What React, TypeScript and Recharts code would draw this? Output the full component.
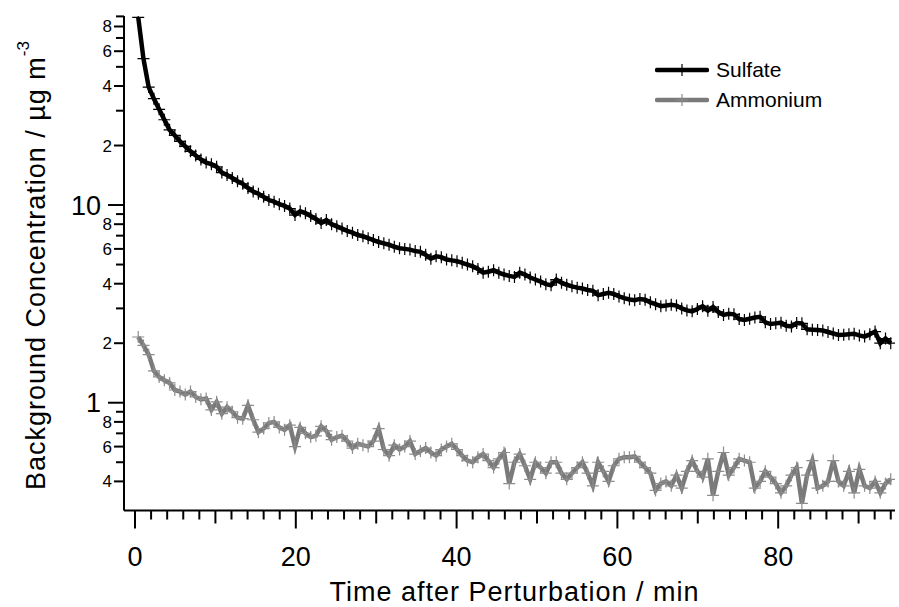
import { LineChart, Line, XAxis, YAxis, Legend, Label } from 'recharts'

const FONT = '"Liberation Sans", Arial, Helvetica, sans-serif'

// minutes after the perturbation
const timeMin = [
  0.4, 1.05, 1.7, 2.35, 3, 3.65, 4.3, 4.95, 5.6, 6.25, 6.9, 7.55, 8.2, 8.85, 9.5, 10.15,
  10.8, 11.45, 12.1, 12.75, 13.4, 14.05, 14.7, 15.35, 16, 16.65, 17.3, 17.95, 18.6, 19.25,
  19.9, 20.55, 21.2, 21.85, 22.5, 23.15, 23.8, 24.45, 25.1, 25.75, 26.4, 27.05, 27.7, 28.35,
  29, 29.65, 30.3, 30.95, 31.6, 32.25, 32.9, 33.55, 34.2, 34.85, 35.5, 36.15, 36.8, 37.45,
  38.1, 38.75, 39.4, 40.05, 40.7, 41.35, 42, 42.65, 43.3, 43.95, 44.6, 45.25, 45.9, 46.55,
  47.2, 47.85, 48.5, 49.15, 49.8, 50.45, 51.1, 51.75, 52.4, 53.05, 53.7, 54.35, 55, 55.65,
  56.3, 56.95, 57.6, 58.25, 58.9, 59.55, 60.2, 60.85, 61.5, 62.15, 62.8, 63.45, 64.1, 64.75,
  65.4, 66.05, 66.7, 67.35, 68, 68.65, 69.3, 69.95, 70.6, 71.25, 71.9, 72.55, 73.2, 73.85,
  74.5, 75.15, 75.8, 76.45, 77.1, 77.75, 78.4, 79.05, 79.7, 80.35, 81, 81.65, 82.3, 82.95,
  83.6, 84.25, 84.9, 85.55, 86.2, 86.85, 87.5, 88.15, 88.8, 89.45, 90.1, 90.75, 91.4, 92.05,
  92.7, 93.35, 94,
]

// µg m-3
const sulfate = [
  89, 55, 39.5, 34.5, 30.5, 27, 24, 22.5, 21, 19.8, 18.7, 17.8, 17, 16.4, 16.1, 15.6,
  14.6, 14.2, 13.7, 13.2, 12.8, 12.2, 11.7, 11.4, 11, 10.6, 10.4, 10.1, 9.9, 9.6,
  8.9, 9.3, 9.1, 8.8, 8.5, 8.1, 8.4, 8, 7.8, 7.6, 7.4, 7.25, 7.05, 6.95,
  6.8, 6.65, 6.5, 6.4, 6.3, 6.15, 6.05, 6, 5.95, 5.85, 5.8, 5.6, 5.35, 5.5,
  5.45, 5.3, 5.25, 5.2, 5.1, 5, 4.9, 4.75, 4.55, 4.6, 4.68, 4.55, 4.45, 4.38,
  4.33, 4.55, 4.45, 4.3, 4.2, 4.1, 3.98, 3.93, 4.2, 4.05, 3.95, 3.88, 3.82, 3.78,
  3.72, 3.68, 3.5, 3.55, 3.6, 3.55, 3.45, 3.38, 3.33, 3.3, 3.35, 3.32, 3.22, 3.15,
  3.08, 3.1, 3.13, 3.1, 3, 2.93, 2.9, 2.98, 3.08, 2.92, 3.05, 2.88, 2.78, 2.82,
  2.8, 2.65, 2.62, 2.66, 2.7, 2.72, 2.55, 2.5, 2.52, 2.54, 2.45, 2.43, 2.53, 2.52,
  2.35, 2.34, 2.33, 2.32, 2.28, 2.24, 2.2, 2.21, 2.22, 2.23, 2.19, 2.16, 2.22, 2.29,
  2, 2.11, 2,
]

const ammonium = [
  2.15, 1.95, 1.75, 1.45, 1.35, 1.3, 1.26, 1.16, 1.14, 1.1, 1.14, 1.07, 1.04, 1.05, 0.92, 1.01,
  0.88, 0.95, 0.9, 0.84, 0.83, 0.97, 0.82, 0.71, 0.74, 0.79, 0.8, 0.75, 0.73, 0.77,
  0.6, 0.75, 0.7, 0.67, 0.68, 0.76, 0.72, 0.65, 0.67, 0.68, 0.64, 0.59, 0.62, 0.61,
  0.6, 0.64, 0.74, 0.58, 0.54, 0.61, 0.58, 0.6, 0.64, 0.55, 0.57, 0.59, 0.56, 0.54,
  0.58, 0.6, 0.62, 0.58, 0.54, 0.51, 0.5, 0.53, 0.55, 0.51, 0.47, 0.52, 0.56, 0.39,
  0.5, 0.55, 0.48, 0.41, 0.5, 0.47, 0.44, 0.5, 0.5, 0.44, 0.41, 0.44, 0.47, 0.5,
  0.44, 0.38, 0.5, 0.45, 0.4, 0.48, 0.52, 0.53, 0.53, 0.535, 0.5, 0.47, 0.44, 0.36,
  0.39, 0.4, 0.38, 0.43, 0.37, 0.45, 0.51, 0.45, 0.42, 0.52, 0.34, 0.45, 0.56, 0.43,
  0.47, 0.52, 0.51, 0.5, 0.37, 0.4, 0.45, 0.42, 0.39, 0.35, 0.38, 0.43, 0.47, 0.31,
  0.43, 0.51, 0.37, 0.38, 0.4, 0.51, 0.4, 0.38, 0.45, 0.35, 0.46, 0.38, 0.37, 0.4,
  0.35, 0.39, 0.41,
]

const seriesOrder = ['Sulfate', 'Ammonium']

const xTicks = [
  0, 2, 4, 6, 8, 10, 12, 14, 16, 18, 20, 22, 24, 26, 28, 30, 32, 34, 36, 38, 40, 42, 44, 46,
  48, 50, 52, 54, 56, 58, 60, 62, 64, 66, 68, 70, 72, 74, 76, 78, 80, 82, 84, 86, 88, 90, 92, 94,
]
const xLabelled = [0, 20, 40, 60, 80]
const xMedium = [10, 30, 50, 70, 90]

const yTicks = [
  0.4, 0.5, 0.6, 0.7, 0.8, 0.9, 1, 2, 3, 4, 5, 6, 7, 8, 9, 10, 20, 30, 40, 50, 60, 70, 80, 90,
]
const yMajor = [1, 10]
const yMinorLabels: Record<string, string> = {
  '0.4': '4', '0.6': '6', '0.8': '8', '2': '2', '4': '4', '6': '6', '8': '8',
  '20': '2', '40': '4', '60': '6', '80': '8',
}

const data = timeMin.map((t, i) => ({ t, sulfate: sulfate[i], ammonium: ammonium[i] }))

const SULFATE_COLOR = '#000000'
const AMMONIUM_COLOR = '#7a7a7a'
const AMMONIUM_MARK = '#8c8c8c'

function cross(cx: number, cy: number, color: string, key: string) {
  return (
    <path
      key={key}
      d={`M${cx - 6},${cy}H${cx + 6}M${cx},${cy - 6}V${cy + 6}`}
      stroke={color}
      strokeWidth={1.2}
      fill="none"
    />
  )
}

function XTick(props: any) {
  const { x, y, payload } = props
  const v = payload.value
  const len = xLabelled.includes(v) ? 18 : xMedium.includes(v) ? 13 : 9
  return (
    <g>
      <line x1={x} x2={x} y1={y} y2={y + len} stroke="#000" strokeWidth={2} />
      {xLabelled.includes(v) && (
        <text x={x} y={y + 55.5} textAnchor="middle" fontSize={27} fontFamily={FONT} fill="#000">
          {v}
        </text>
      )}
    </g>
  )
}

function YTick(props: any) {
  const { x, y, payload } = props
  const v = payload.value
  const major = yMajor.includes(v)
  const small = yMinorLabels[String(v)]
  const len = major ? 16 : small ? 10 : 8
  return (
    <g>
      <line x1={x} x2={x - len} y1={y} y2={y} stroke="#000" strokeWidth={2} />
      {major && (
        <text x={x - len - 7} y={y + 9.5} textAnchor="end" fontSize={27} fontFamily={FONT} fill="#000">
          {v}
        </text>
      )}
      {!major && small && (
        <text x={x - len - 2} y={y + 6} textAnchor="end" fontSize={17} fontFamily={FONT} fill="#000">
          {small}
        </text>
      )}
    </g>
  )
}

function LegendBox(props: any) {
  const items = [...(props.payload || [])].sort(
    (a: any, b: any) => seriesOrder.indexOf(a.value) - seriesOrder.indexOf(b.value)
  )
  return (
    <div style={{ fontFamily: FONT }}>
      {items.map((it: any) => {
        const mark = it.value === 'Ammonium' ? AMMONIUM_MARK : SULFATE_COLOR
        return (
          <div key={it.value} style={{ display: 'flex', alignItems: 'center', height: 30 }}>
            <svg width={54} height={20} style={{ display: 'block' }}>
              <line x1={2} x2={52} y1={10} y2={10} stroke={it.color} strokeWidth={4.5} strokeLinecap="round" />
              {cross(27, 10, mark, 'm')}
            </svg>
            <span style={{ fontSize: 21, marginLeft: 7, color: '#000', lineHeight: '30px' }}>{it.value}</span>
          </div>
        )
      })}
    </div>
  )
}

export default function App() {
  return (
    <div style={{ position: 'absolute', left: 0, top: 0, background: '#fff' }}>
      <LineChart width={899} height={607} data={data} margin={{ top: 16, right: 4, left: 0, bottom: 0 }}>
        <XAxis
          dataKey="t"
          type="number"
          domain={[-1.37, 94.53]}
          allowDataOverflow
          ticks={xTicks}
          interval={0}
          tick={<XTick />}
          tickLine={false}
          tickSize={0}
          tickMargin={0}
          axisLine={{ stroke: '#000', strokeWidth: 2 }}
          height={96.5}
        >
          <Label
            content={(p: any) => {
              const vb = p.viewBox || { x: 124, width: 771 }
              return (
                <text
                  x={vb.x + vb.width / 2 + 5}
                  y={601}
                  textAnchor="middle"
                  fontSize={27}
                  letterSpacing={1}
                  fontFamily={FONT}
                  fill="#000"
                >
                  Time after Perturbation / min
                </text>
              )
            }}
          />
        </XAxis>
        <YAxis
          scale="log"
          type="number"
          domain={[0.285, 90.4]}
          allowDataOverflow
          ticks={yTicks}
          interval={0}
          tick={<YTick />}
          tickLine={false}
          tickSize={0}
          tickMargin={0}
          axisLine={{ stroke: '#000', strokeWidth: 2 }}
          width={124}
        >
          <Label
            content={() => (
              <text
                transform="translate(45, 490) rotate(-90)"
                x={0}
                y={0}
                textAnchor="start"
                fontSize={27}
                letterSpacing={1}
                fontFamily={FONT}
                fill="#000"
              >
                Background Concentration / µg m
                <tspan fontSize={17} dy={-16} letterSpacing={0}>-3</tspan>
              </text>
            )}
          />
        </YAxis>
        <Legend
          layout="vertical"
          align="center"
          verticalAlign="middle"
          wrapperStyle={{ left: 655, top: 55, width: 220 }}
          content={<LegendBox />}
        />
        <Line
          type="linear"
          dataKey="sulfate"
          name="Sulfate"
          stroke={SULFATE_COLOR}
          strokeWidth={4.5}
          dot={(p: any) => cross(p.cx, p.cy, SULFATE_COLOR, `s${p.index}`)}
          activeDot={false}
          isAnimationActive={false}
        />
        <Line
          type="linear"
          dataKey="ammonium"
          name="Ammonium"
          stroke={AMMONIUM_COLOR}
          strokeWidth={4.5}
          dot={(p: any) => cross(p.cx, p.cy, AMMONIUM_MARK, `a${p.index}`)}
          activeDot={false}
          isAnimationActive={false}
        />
      </LineChart>
    </div>
  )
}
